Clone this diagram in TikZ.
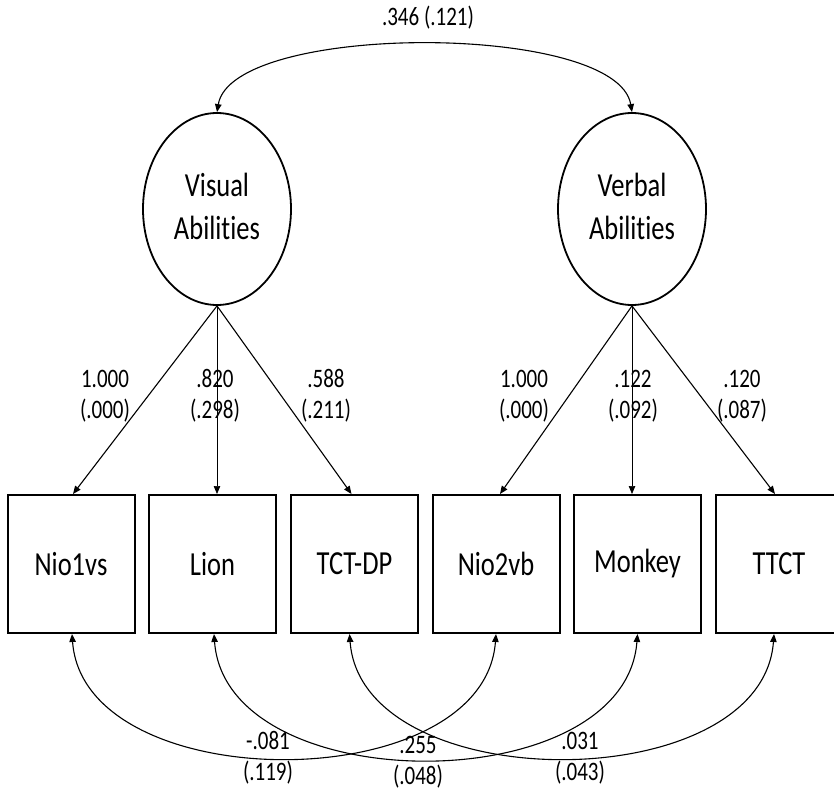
\documentclass[tikz,border=0pt]{standalone}
\usepackage{graphicx}
\usepackage{fontspec}
\setmainfont{Carlito}[Ligatures={NoCommon}]
\usetikzlibrary{arrows.meta,shapes.geometric}
\newcommand{\stx}[1]{\scalebox{1}[1.27]{#1}}
\newcommand{\twol}[2]{\begin{tabular}{@{}c@{}}#1\\#2\end{tabular}}
\tikzset{
  latent/.style={ellipse,draw,line width=1.8pt,minimum width=148pt,minimum height=192pt,inner sep=0pt,
     font=\fontsize{26.5}{34}\selectfont},
  obs/.style={rectangle,draw,line width=2pt,minimum width=127pt,minimum height=138pt,inner sep=0pt,
     font=\fontsize{26.5}{32}\selectfont},
  lab/.style={inner sep=0pt,font=\fontsize{21}{24.4}\selectfont},
  tip/.style={-{Triangle[length=8pt,width=6.5pt]}},
  dtip/.style={{Triangle[length=8pt,width=6.5pt]}-{Triangle[length=8pt,width=6.5pt]}},
  path/.style={tip,line width=1.1pt},
  thinpath/.style={tip,line width=0.7pt},
  cov/.style={dtip,line width=1.1pt}
}
\begin{document}
\begin{tikzpicture}[x=1pt,y=-1pt]
\useasboundingbox (0,0) rectangle (834,795);
% latent
\node[latent] (vis) at (217,209) {\stx{\twol{Visual}{Abilities}}};
\node[latent] (verb) at (632,209) {\stx{\twol{Verbal}{Abilities}}};
% observed
\node[obs] (n1) at (71,564) {\stx{Nio1vs}};
\node[obs] (lion) at (212.5,564) {\stx{Lion}};
\node[obs] (tct) at (354.5,564) {\stx{TCT-DP}};
\node[obs] (n2) at (496,564) {\stx{Nio2vb}};
\node[obs] (monk) at (637.5,564) {\stx{Monkey}};
\node[obs] (ttct) at (779,564) {\stx{TTCT}};
% latent covariance
\draw[cov] (vis.north) .. controls (232,22) and (617,22) .. (verb.north);
\node[lab] (c0) at (428,18) {\stx{.346 (.121)}};
% loadings
\draw[path] (vis.south) -- ([xshift=2pt]n1.north);
\draw[thinpath] (vis.south) -- (vis.south |- lion.north);
\draw[path] (vis.south) -- ([xshift=-3pt]tct.north);
\draw[path] (verb.south) -- ([xshift=4pt]n2.north);
\draw[thinpath] (verb.south) -- (verb.south |- monk.north);
\draw[path] (verb.south) -- ([xshift=-4pt]ttct.north);
\node[lab] (l1) at (105,397) {\stx{\twol{1.000}{(.000)}}};
\node[lab] (l2) at (215,397) {\stx{\twol{.820}{(.298)}}};
\node[lab] (l3) at (326,397) {\stx{\twol{.588}{(.211)}}};
\node[lab] (l4) at (524,397) {\stx{\twol{1.000}{(.000)}}};
\node[lab] (l5) at (633,397) {\stx{\twol{.122}{(.092)}}};
\node[lab] (l6) at (742,397) {\stx{\twol{.120}{(.087)}}};
% residual covariances
\draw[cov] ([xshift=1pt]n1.south) .. controls (84,799) and (484,799) .. (n2.south);
\draw[cov] ([xshift=1.5pt]lion.south) .. controls (226,801) and (625,801) .. (monk.south);
\draw[cov] ([xshift=-5pt]tct.south) .. controls (362,799) and (762,799) .. ([xshift=-5pt]ttct.south);
\node[lab] (r1) at (268,759) {\stx{\twol{-.081}{(.119)}}};
\node[lab] (r2) at (418,763) {\stx{\twol{.255}{(.048)}}};
\node[lab] (r3) at (580,759) {\stx{\twol{.031}{(.043)}}};
\end{tikzpicture}
\end{document}
